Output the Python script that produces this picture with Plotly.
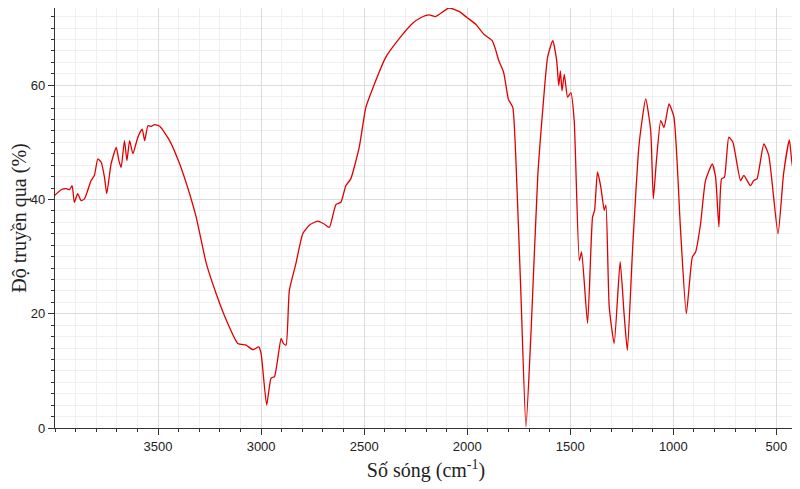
import plotly.graph_objects as go

wavenumber = [4002,3970,3946,3930,3917,3906,3890,3873,3857,3841,3825,3809,3792,3776,3760,3749,3728,3703,3690,3679,3663,3651,3638,3622,3598,3577,3565,3549,3533,3517,3492,
 3444,3395,3347,3315,3266,3218,3169,3113,3073,3040,3011,3000,2973,2952,2935,2903,2892,2879,2863,2831,2798,2766,2726,2694,2669,2637,2613,2589,2565,2524,2492,2460,2395,2331,2266,2226,2185,2153,2089,2040,2000,1960,1919,1879,1863,1847,1823,1800,1779,1763,
 1739,1715,1690,1658,1634,1610,1585,1566,1556,1548,1540,1529,1513,1497,1481,1456,1445,1416,1392,1382,1368,1352,1335,1327,1311,1287,1258,1239,1223,1198,1166,1134,1110,1097,1082,1061,1045,1021,997,965,937,908,892,868,844,811,795,779,766,752,731,711,674,658,626,610,594,561,537,492,465,437,421,411,403]
transmittance = [40.7,41.7,41.9,41.7,42.4,39.5,41.0,39.8,40.1,41.6,43.3,44.2,47.1,46.5,43.9,41.0,46.2,49.1,46.8,45.6,50.3,46.8,50.3,48.0,50.9,52.3,50.3,52.9,52.8,53.1,52.8,
 50.3,46.2,41.0,36.9,28.8,23.5,18.9,14.8,14.5,13.7,14.2,13.0,4.0,8.7,9.0,15.7,14.8,14.5,24.1,28.8,34.0,35.5,36.2,35.7,35.1,39.1,39.5,42.4,43.6,49.1,56.1,59.3,64.9,68.1,70.8,71.8,72.3,72.0,73.5,72.9,71.8,70.7,68.9,67.8,66.3,64.3,62.2,57.5,56.1,46.2,
 22.9,0.2,17.1,43.9,55.5,64.9,67.8,64.3,59.9,62.5,59.0,61.9,57.9,58.7,53.8,29.3,30.8,18.3,36.9,38.1,44.8,42.2,38.1,39.0,21.2,14.8,29.1,20.0,13.6,31.1,49.7,57.6,52.1,40.1,46.8,53.8,52.6,56.7,54.4,34.6,20.0,29.9,30.8,35.7,43.3,46.2,43.9,35.2,43.6,43.9,50.9,50.0,43.3,44.2,42.4,43.3,43.6,49.7,47.7,34.0,44.5,50.4,45.6,46.2,40.7]

x_ticks = [3500, 3000, 2500, 2000, 1500, 1000, 500]
y_ticks = [0, 20, 40, 60]

fig = go.Figure(go.Scatter(x=wavenumber, y=transmittance, mode="lines",
                           line=dict(color="#e00000", width=1.3, shape="spline", smoothing=0.5),
                           hoverinfo="skip", cliponaxis=True))
axis_common = dict(showline=True, linecolor="#333", linewidth=1.2, ticks="outside", ticklen=6,
                   tickcolor="#333", gridcolor="#dcdcdc", gridwidth=1, zeroline=False,
                   tickfont=dict(family="Liberation Sans, Arial", size=13, color="#222"),
                   mirror=False, automargin=False)
fig.update_layout(
    width=800, height=489, paper_bgcolor="white", plot_bgcolor="white",
    margin=dict(l=47, r=11, t=0, b=69), showlegend=False,
    xaxis=dict(range=[4000, 400], tickvals=x_ticks,
               minor=dict(dtick=100, tick0=0, ticks="outside", ticklen=3, tickcolor="#333", showgrid=True, gridcolor="#efefef"),
               title=dict(text="Số sóng (cm<sup>-1</sup>)", font=dict(family="Liberation Serif, Times New Roman", size=20, color="#222"), standoff=10),
               **axis_common),
    yaxis=dict(range=[0, 73.5], tickvals=y_ticks,
               minor=dict(dtick=2, tick0=0, ticks="outside", ticklen=3, tickcolor="#333", showgrid=True, gridcolor="#efefef"),
               title=dict(text="Độ truyền qua (%)", font=dict(family="Liberation Serif, Times New Roman", size=20, color="#222"), standoff=6),
               **axis_common),
)
fig.write_html("out.html")
